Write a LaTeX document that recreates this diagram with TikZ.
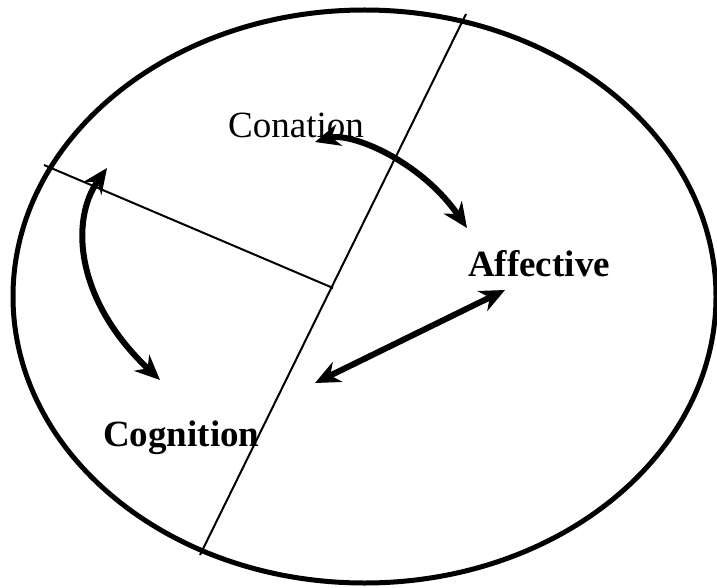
\documentclass[tikz,border=0pt]{standalone}
\usepackage{fontspec}
\setmainfont{Liberation Serif}
\usepackage{tikz}
\usetikzlibrary{arrows.meta,positioning}
\tikzset{bigarrow/.style={line width=6pt,{Stealth[length=25pt,width=22pt,inset=8pt]}-{Stealth[length=25pt,width=22pt,inset=8pt]}},
divider/.style={line width=2pt}}

\begin{document}
\begin{tikzpicture}[x=1pt, y=-1pt]

\tikzset{labeltext/.style={font=\fontsize{37}{44}\selectfont,inner sep=0pt,anchor=base west}}

\useasboundingbox (0,0) rectangle (717,588);

% Outline
\draw[line width=5pt] (364.5,296.5) ellipse [x radius=351.5, y radius=286.5];

% Dividers
\coordinate (longTop) at (466,14);
\coordinate (longBot) at (200,555);
\coordinate (shortL) at (44,165);
\coordinate (shortR) at (333,288);
\draw[divider] (longTop) -- (longBot);
\draw[divider] (shortL) -- (shortR);

% Labels
\node[labeltext] (conation) at (228,138) {Conation};
\node[labeltext,font=\fontsize{37}{44}\selectfont\bfseries] (affective) at (468,276) {Affective};
\node[labeltext,font=\fontsize{37}{44}\selectfont\bfseries] (cognition) at (103,446) {Cognition};

% Arrow ends
\coordinate (conA) at (315,142);
\coordinate (affA) at (467,228);
\coordinate (conB) at (107,168);
\coordinate (cogB) at (160,380);
\coordinate (affC) at (505,290);
\coordinate (cogC) at (315,383);

% Arrows
\draw[bigarrow] (conA) .. controls (350,132) and (420,160) .. (affA);
\draw[bigarrow] (conB) .. controls (70,220) and (75,300) .. (cogB);
\draw[bigarrow] (cogC) -- (affC);

\end{tikzpicture}
\end{document}
